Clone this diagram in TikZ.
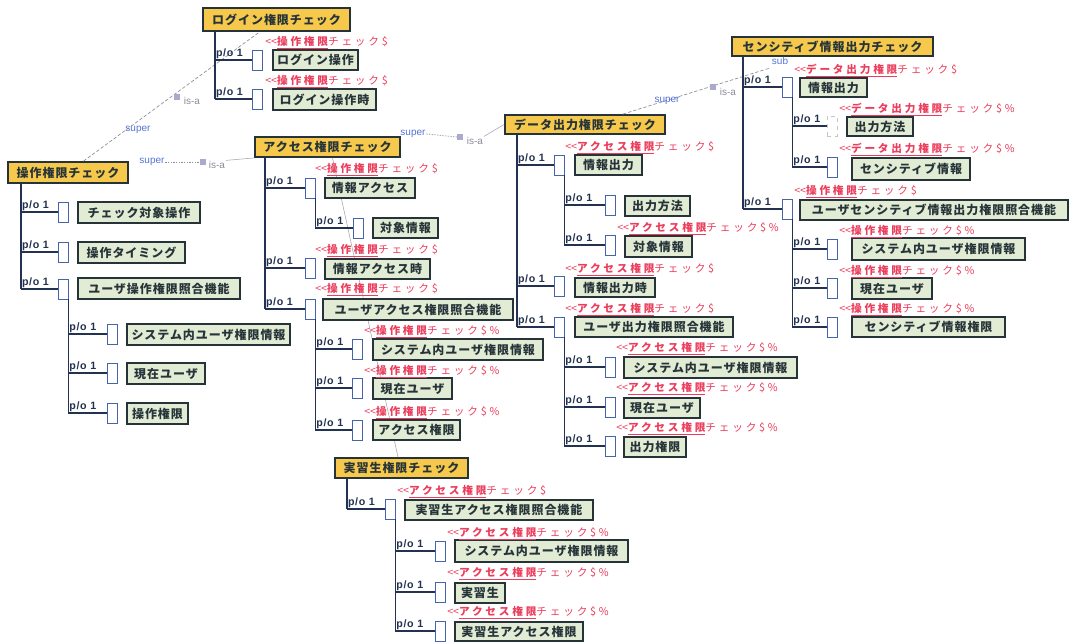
\documentclass[tikz,border=0pt]{standalone}
\usepackage{fontspec}
\setmainfont{Noto Sans CJK JP}
\newfontfamily\lat{Liberation Sans}
\usetikzlibrary{calc}
\definecolor{ybox}{RGB}{246,201,76}
\definecolor{gbox}{RGB}{226,236,212}
\definecolor{bord}{RGB}{38,52,58}
\definecolor{sblue}{RGB}{70,100,170}
\definecolor{lnav}{RGB}{35,50,80}
\definecolor{rtxt}{RGB}{236,62,92}
\definecolor{btxt}{RGB}{85,115,215}
\definecolor{gtxt}{RGB}{140,140,155}
\definecolor{isq}{RGB}{170,170,205}
\tikzset{
 pbox/.style={draw=bord, fill=ybox, line width=1.4pt, inner sep=0pt, text=bord,
   font=\fontsize{9}{10}\selectfont\bfseries\addfontfeatures{LetterSpace=8}},
 cbox/.style={draw=bord, fill=gbox, line width=1.4pt, inner sep=0pt, text=bord,
   font=\fontsize{9}{10}\selectfont\bfseries\addfontfeatures{LetterSpace=8}},
 sbox/.style={draw=sblue, fill=white, line width=0.6pt, minimum width=7.5pt, minimum height=15pt, inner sep=0pt},
 sboxg/.style={draw=gray!45, fill=white, line width=0.6pt, dashed, minimum width=7.5pt, minimum height=15pt, inner sep=0pt},
 pol/.style={draw=lnav, line width=1.1pt},
 pot/.style={font=\lat\fontsize{8}{9}\selectfont\bfseries\addfontfeatures{LetterSpace=6}, text=lnav, inner sep=0.6pt, anchor=south west},
 rlab/.style={font=\fontsize{8}{9}\selectfont\addfontfeatures{LetterSpace=26}, text=rtxt, inner sep=0pt, anchor=west},
 isa/.style={draw=gtxt, line width=0.5pt, dash pattern=on 2.5pt off 1.5pt},
 isal/.style={draw=gtxt!80, line width=0.4pt},
 sup/.style={font=\lat\fontsize{7.5}{8}\selectfont, text=btxt, inner sep=0.5pt},
 ist/.style={font=\lat\fontsize{7.5}{8}\selectfont, text=gtxt, inner sep=0.5pt},
 sq/.style={fill=isq, minimum size=4pt, inner sep=0pt}
}
\newcommand\pb[6]{\node[pbox, minimum width={(#4-#2)*0.75pt}, minimum height={(#5-#3)*0.75pt}] (#1) at ({(#2+#4)/2},{(#3+#5)/2}) {#6};}
\newcommand\ch[6]{\node[cbox, minimum width={(#4-#2)*0.75pt}, minimum height={(#5-#3)*0.75pt}] (#1) at ({(#2+#4)/2},{(#3+#5)/2}) {#6};}
\newcommand\smb[3]{\node[sbox] (#1) at ({#2+5},#3) {};}
\newcommand\con[2]{\draw[pol] (#1 |- #2.west) -- (#2.west); \node[pot] (#2p) at (#1 |- #2.west) {p/o 1};}
\newcommand\rl[5]{\node[rlab] (#1) at (#2,#3) {<\kern0pt<\underline{\bfseries #4}チェック#5};}
\begin{document}
\begin{tikzpicture}[x=0.75pt,y=-0.75pt]
\fill[white] (0,0) rectangle (1070,642);
\useasboundingbox (0,0) rectangle (1070,642);

% ---------- parent boxes ----------
\pb{A}{203}{8}{350}{31}{ログイン権限チェック}
\pb{B}{8}{162}{128}{183}{操作権限チェック}
\pb{C}{255}{137}{400}{157}{アクセス権限チェック}
\pb{D}{505}{115}{665}{134}{データ出力権限チェック}
\pb{E}{732}{37}{933}{56}{センシティブ情報出力チェック}
\pb{F}{335}{458}{468}{478}{実習生権限チェック}

% ---------- is-a links ----------
\draw[isa] (B) -- (A);
\node[sup] (L1s) at (138,130) {super};
\node[sq] (L1q) at (177,97) {};
\node[ist, anchor=west] (L1i) at (183,101) {is-a};

\node[sup] (L2s) at (152,162) {super};
\node[sq] (L2q) at (203,162) {};
\node[ist, anchor=west] (L2i) at (208,165) {is-a};
\draw[isa, dash pattern=on 1pt off 1pt] (L2s.east) -- (L2q.west);
\draw[isal] (L2i.north east) -- (C.south west);

\node[sup] (L3s) at (413,134) {super};
\node[sq] (L3q) at (460,137) {};
\node[ist, anchor=west] (L3i) at (466,141) {is-a};
\draw[isa, dash pattern=on 1pt off 1pt] (L3s.east) -- (L3q.west);
\draw[isal] (L3i.north east) -- (D.west);

\coordinate (L4e) at (770,68);
\draw[isa] ($(D.north)+(38,0)$) -- (L4e);
\node[sup] (L4s) at (667,101) {super};
\node[sq] (L4q) at (713,87) {};
\node[ist, anchor=west] (L4i) at (719,92) {is-a};
\node[sup] (L4u) at (780,61) {sub};

\draw[isal] ($(C.south)+(5,0)$) -- ($(F.north)+(-3.5,0)$);

% ---------- group A ----------
\coordinate (AT) at (215,31);
\smb{A1s}{252}{60}
\smb{A2s}{252}{99}
\draw[pol] (AT) -- (AT |- A2s.west);
\con{AT}{A1s} \con{AT}{A2s}
\ch{A1}{273}{50}{358}{70}{ログイン操作}
\ch{A2}{273}{89}{376}{110}{ログイン操作時}
\rl{A1r}{265}{43}{操作権限}{\$}
\rl{A2r}{265}{82}{操作権限}{\$}

% ---------- group B ----------
\coordinate (BT) at (21,183);
\smb{B1s}{58}{212}
\smb{B2s}{58}{252}
\smb{B3s}{58}{289}
\draw[pol] (BT) -- (BT |- B3s.west);
\con{BT}{B1s} \con{BT}{B2s} \con{BT}{B3s}
\ch{B1}{78}{202}{200}{223}{チェック対象操作}
\ch{B2}{78}{242}{185}{263}{操作タイミング}
\ch{B3}{78}{278}{240}{299}{ユーザ操作権限照合機能}
\coordinate (B3T) at (B3s.south east);
\smb{B31s}{107}{334}
\smb{B32s}{107}{373}
\smb{B33s}{107}{413}
\draw[pol] (B3T) -- (B3T |- B33s.west);
\con{B3T}{B31s} \con{B3T}{B32s} \con{B3T}{B33s}
\ch{B31}{127}{324}{290}{345}{システム内ユーザ権限情報}
\ch{B32}{127}{363}{205}{384}{現在ユーザ}
\ch{B33}{127}{403}{188}{424}{操作権限}

% ---------- group C ----------
\coordinate (CT) at (265,157);
\smb{C1s}{305}{188}
\smb{C2s}{305}{268}
\smb{C3s}{305}{309}
\draw[pol] (CT) -- (CT |- C3s.west);
\con{CT}{C1s} \con{CT}{C2s} \con{CT}{C3s}
\ch{C1}{325}{178}{415}{198}{情報アクセス}
\ch{C2}{325}{259}{430}{279}{情報アクセス時}
\ch{C3}{323}{299}{513}{320}{ユーザアクセス権限照合機能}
\rl{C1r}{315}{170}{操作権限}{\$}
\rl{C2r}{315}{251}{操作権限}{\$}
\rl{C3r}{315}{290}{操作権限}{\$}
\coordinate (C1T) at (C1s.south east);
\smb{C11s}{353}{228}
\draw[pol] (C1T) -- (C1T |- C11s.west);
\con{C1T}{C11s}
\ch{C11}{373}{218}{438}{238}{対象情報}
\coordinate (C3T) at (C3s.south east);
\smb{C31s}{352}{349}
\smb{C32s}{352}{388}
\smb{C33s}{352}{430}
\draw[pol] (C3T) -- (C3T |- C33s.west);
\con{C3T}{C31s} \con{C3T}{C32s} \con{C3T}{C33s}
\ch{C31}{373}{339}{543}{360}{システム内ユーザ権限情報}
\ch{C32}{373}{378}{452}{399}{現在ユーザ}
\ch{C33}{373}{420}{460}{440}{アクセス権限}
\rl{C31r}{364}{332}{操作権限}{\$\%}
\rl{C32r}{364}{372}{操作権限}{\$\%}
\rl{C33r}{364}{413}{操作権限}{\$\%}

% ---------- group D ----------
\coordinate (DT) at (517,134);
\smb{D1s}{554}{165}
\smb{D2s}{554}{286}
\smb{D3s}{554}{327}
\draw[pol] (DT) -- (DT |- D3s.west);
\con{DT}{D1s} \con{DT}{D2s} \con{DT}{D3s}
\ch{D1}{575}{155}{642}{175}{情報出力}
\ch{D2}{575}{278}{655}{297}{情報出力時}
\ch{D3}{575}{317}{733}{337}{ユーザ出力権限照合機能}
\rl{D1r}{565}{148}{アクセス権限}{\$}
\rl{D2r}{565}{270}{アクセス権限}{\$}
\rl{D3r}{565}{310}{アクセス権限}{\$}
\coordinate (D1T) at (D1s.south east);
\smb{D11s}{605}{205}
\smb{D12s}{605}{245}
\draw[pol] (D1T) -- (D1T |- D12s.west);
\con{D1T}{D11s} \con{D1T}{D12s}
\ch{D11}{625}{196}{690}{216}{出力方法}
\ch{D12}{625}{236}{692}{257}{対象情報}
\rl{D12r}{617}{229}{アクセス権限}{\$\%}
\coordinate (D3T) at (D3s.south east);
\smb{D31s}{605}{367}
\smb{D32s}{605}{407}
\smb{D33s}{605}{446}
\draw[pol] (D3T) -- (D3T |- D33s.west);
\con{D3T}{D31s} \con{D3T}{D32s} \con{D3T}{D33s}
\ch{D31}{624}{357}{797}{378}{システム内ユーザ権限情報}
\ch{D32}{624}{398}{700}{418}{現在ユーザ}
\ch{D33}{624}{437}{686}{457}{出力権限}
\rl{D31r}{616}{349}{アクセス権限}{\$\%}
\rl{D32r}{616}{389}{アクセス権限}{\$\%}
\rl{D33r}{616}{429}{アクセス権限}{\$\%}

% ---------- group E ----------
\coordinate (ET) at (743,56);
\smb{E1s}{782}{87}
\smb{E2s}{782}{209}
\draw[pol] (ET) -- (ET |- E2s.west);
\con{ET}{E1s} \con{ET}{E2s}
\ch{E1}{800}{78}{867}{97}{情報出力}
\ch{E2}{800}{200}{1068}{220}{ユーザセンシティブ情報出力権限照合機能}
\rl{E1r}{794}{71}{データ出力権限}{\$}
\rl{E2r}{794}{192}{操作権限}{\$}
\coordinate (E1T) at (E1s.south east);
\node[sboxg] (E11s) at (832,126) {};
\smb{E12s}{827}{167}
\draw[pol] (E1T) -- (E1T |- E12s.west);
\con{E1T}{E11s} \con{E1T}{E12s}
\ch{E11}{847}{117}{913}{136}{出力方法}
\ch{E12}{852}{158}{970}{180}{センシティブ情報}
\rl{E11r}{839}{110}{データ出力権限}{\$\%}
\rl{E12r}{839}{150}{データ出力権限}{\$\%}
\coordinate (E2T) at (E2s.south east);
\smb{E21s}{827}{249}
\smb{E22s}{827}{288}
\smb{E23s}{827}{327}
\draw[pol] (E2T) -- (E2T |- E23s.west);
\con{E2T}{E21s} \con{E2T}{E22s} \con{E2T}{E23s}
\ch{E21}{852}{238}{1025}{260}{システム内ユーザ権限情報}
\ch{E22}{852}{278}{932}{299}{現在ユーザ}
\ch{E23}{852}{317}{1005}{337}{センシティブ情報権限}
\rl{E21r}{839}{232}{操作権限}{\$\%}
\rl{E22r}{839}{272}{操作権限}{\$\%}
\rl{E23r}{839}{310}{操作権限}{\$\%}

% ---------- group F ----------
\coordinate (FT) at (347,478);
\smb{F1s}{385}{509}
\draw[pol] (FT) -- (FT |- F1s.west);
\con{FT}{F1s}
\ch{F1}{405}{500}{593}{520}{実習生アクセス権限照合機能}
\rl{F1r}{397}{492}{アクセス権限}{\$}
\coordinate (F1T) at (F1s.south east);
\smb{F11s}{435}{551}
\smb{F12s}{435}{592}
\smb{F13s}{435}{631}
\draw[pol] (F1T) -- (F1T |- F13s.west);
\con{F1T}{F11s} \con{F1T}{F12s} \con{F1T}{F13s}
\ch{F11}{455}{540}{628}{562}{システム内ユーザ権限情報}
\ch{F12}{455}{583}{505}{603}{実習生}
\ch{F13}{455}{622}{583}{641}{実習生アクセス権限}
\rl{F11r}{447}{534}{アクセス権限}{\$\%}
\rl{F12r}{447}{574}{アクセス権限}{\$\%}
\rl{F13r}{447}{613}{アクセス権限}{\$\%}
\end{tikzpicture}
\end{document}
